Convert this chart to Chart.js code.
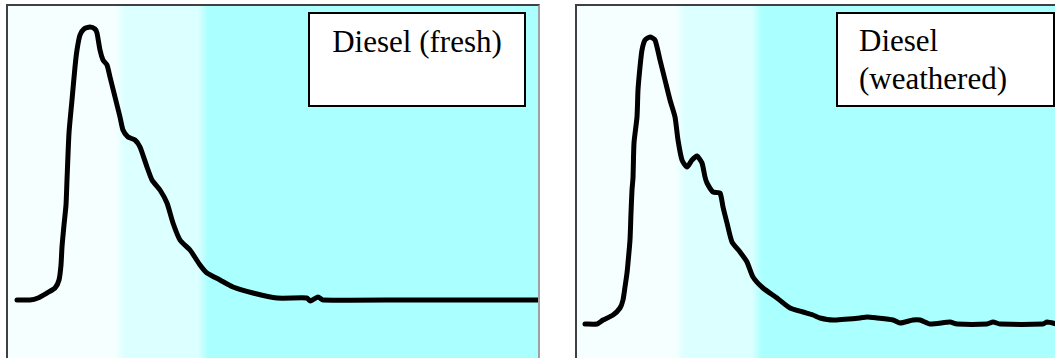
<!DOCTYPE html>
<html>
<head>
<meta charset="utf-8">
<script src="https://cdn.jsdelivr.net/npm/chart.js@4/dist/chart.umd.min.js"></script>
<style>
  html, body { margin: 0; padding: 0; background: #fff; overflow: hidden; }
  body { width: 1055px; height: 358px; position: relative; }
  .panel { position: absolute; top: 4px; height: 354px; border-top: 2px solid #404040; border-left: 2px solid #404040; }
  #panelFresh { left: 6px; width: 530px; border-right: 2px solid #a0a0a0; }
  #panelWeathered { left: 575px; width: 482px; }
  .panel canvas { display: block; }
  .label { position: absolute; top: 12px; height: 91px; background: #fff; border: 2px solid #000;
           font-family: "Liberation Serif", "Times New Roman", serif; font-size: 31px; line-height: 38px; color: #000; }
  #labelFresh { left: 308px; width: 214px; text-align: center; padding-top: 9px; height: 82px; }
  #labelWeathered { left: 836px; width: 194px; padding-left: 21px; padding-top: 8px; height: 83px; }
</style>
</head>
<body>
<div class="panel" id="panelFresh"><canvas id="fresh" width="530" height="352"></canvas></div>
<div class="panel" id="panelWeathered"><canvas id="weathered" width="482" height="352"></canvas></div>
<div class="label" id="labelFresh">Diesel (fresh)</div>
<div class="label" id="labelWeathered">Diesel<br>(weathered)</div>
<script>
// retention (arbitrary units) and detector signal
const freshTime = [10, 23, 31, 40, 48, 52, 54, 55, 57, 59, 60, 62, 65, 68, 70, 73, 77, 83, 88, 90,
  93, 96, 100, 103, 108, 113, 116, 121, 128, 133, 140, 145, 153, 160, 166, 173, 183, 193, 200, 213,
  226, 246, 270, 300, 303, 311, 316, 400, 532];
const freshSignal = [0, 0, 2, 7, 12, 20, 35, 53, 75, 95, 120, 167, 200, 233, 250, 265, 271, 273, 271, 267,
  250, 240, 235, 223, 203, 183, 170, 163, 160, 153, 133, 120, 110, 97, 77, 60, 50, 35, 27, 20,
  13, 7, 2, 2, -1, 3, 0, 0, 0];

const weatheredTime = [9, 21, 27, 37, 44, 47, 49, 51, 52, 54, 55, 56, 57, 58, 61, 62, 64, 66, 69, 74,
  79, 84, 89, 94, 99, 102, 106, 111, 116, 121, 126, 129, 131, 137, 144, 147, 151, 156, 164, 171,
  177, 187, 201, 214, 227, 237, 244, 257, 284, 291, 301, 317, 324, 337, 344, 354, 374, 381, 411, 417,
  424, 467, 471, 481];
const weatheredSignal = [0, 0, 4, 9, 16, 24, 37, 51, 61, 84, 111, 134, 146, 181, 207, 234, 257, 274, 284, 287,
  284, 264, 244, 224, 207, 184, 164, 157, 164, 168, 161, 147, 141, 132, 131, 117, 101, 82, 72, 62,
  47, 36, 26, 16, 12, 9, 6, 4, 6, 7, 6, 4, 1, 4, 4, 0, 2, 0, 0, 2,
  0, 0, 2, 0];

// boiling ranges shaded behind the traces
const freshBands = [113, 196];
const weatheredBands = [104, 181];
const bandColors = ["#f6ffff", "#dcffff", "#aaffff"];

const bandPlugin = {
  id: "bands",
  beforeDraw(chart, args, opts) {
    const { ctx, chartArea: a, scales: { x } } = chart;
    const edges = [a.left, ...opts.cuts.map(v => x.getPixelForValue(v)), a.right];
    ctx.save();
    for (let i = 0; i < bandColors.length; i++) {
      ctx.fillStyle = bandColors[i];
      ctx.fillRect(edges[i], a.top, edges[i + 1] - edges[i], a.bottom - a.top);
    }
    // soft edge between the shades
    for (let i = 1; i < edges.length - 1; i++) {
      const g = ctx.createLinearGradient(edges[i] - 5, 0, edges[i] + 5, 0);
      g.addColorStop(0, bandColors[i - 1]);
      g.addColorStop(1, bandColors[i]);
      ctx.fillStyle = g;
      ctx.fillRect(edges[i] - 5, a.top, 10, a.bottom - a.top);
    }
    ctx.restore();
  }
};

const makeChart = (id, time, signal, cuts, xMax, yMin, yMax) => {
  const points = time.map((t, i) => ({ x: t, y: signal[i] }));
  return new Chart(document.getElementById(id), {
    type: "line",
    data: {
      datasets: [{
        data: points,
        borderColor: "#000",
        borderWidth: 5,
        pointRadius: 0,
        tension: 0.2,
        borderJoinStyle: "round",
        borderCapStyle: "round",
        fill: false,
      }],
    },
    options: {
      responsive: false,
      animation: false,
      layout: { padding: 0 },
      plugins: { legend: { display: false }, tooltip: { enabled: false }, bands: { cuts: cuts } },
      scales: {
        x: { type: "linear", display: false, min: 1, max: xMax },
        y: { display: false, min: yMin, max: yMax },
      },
    },
    plugins: [bandPlugin],
  });
};

makeChart("fresh", freshTime, freshSignal, freshBands, 531, -58, 294);
makeChart("weathered", weatheredTime, weatheredSignal, weatheredBands, 483, -34, 318);
</script>
</body>
</html>
